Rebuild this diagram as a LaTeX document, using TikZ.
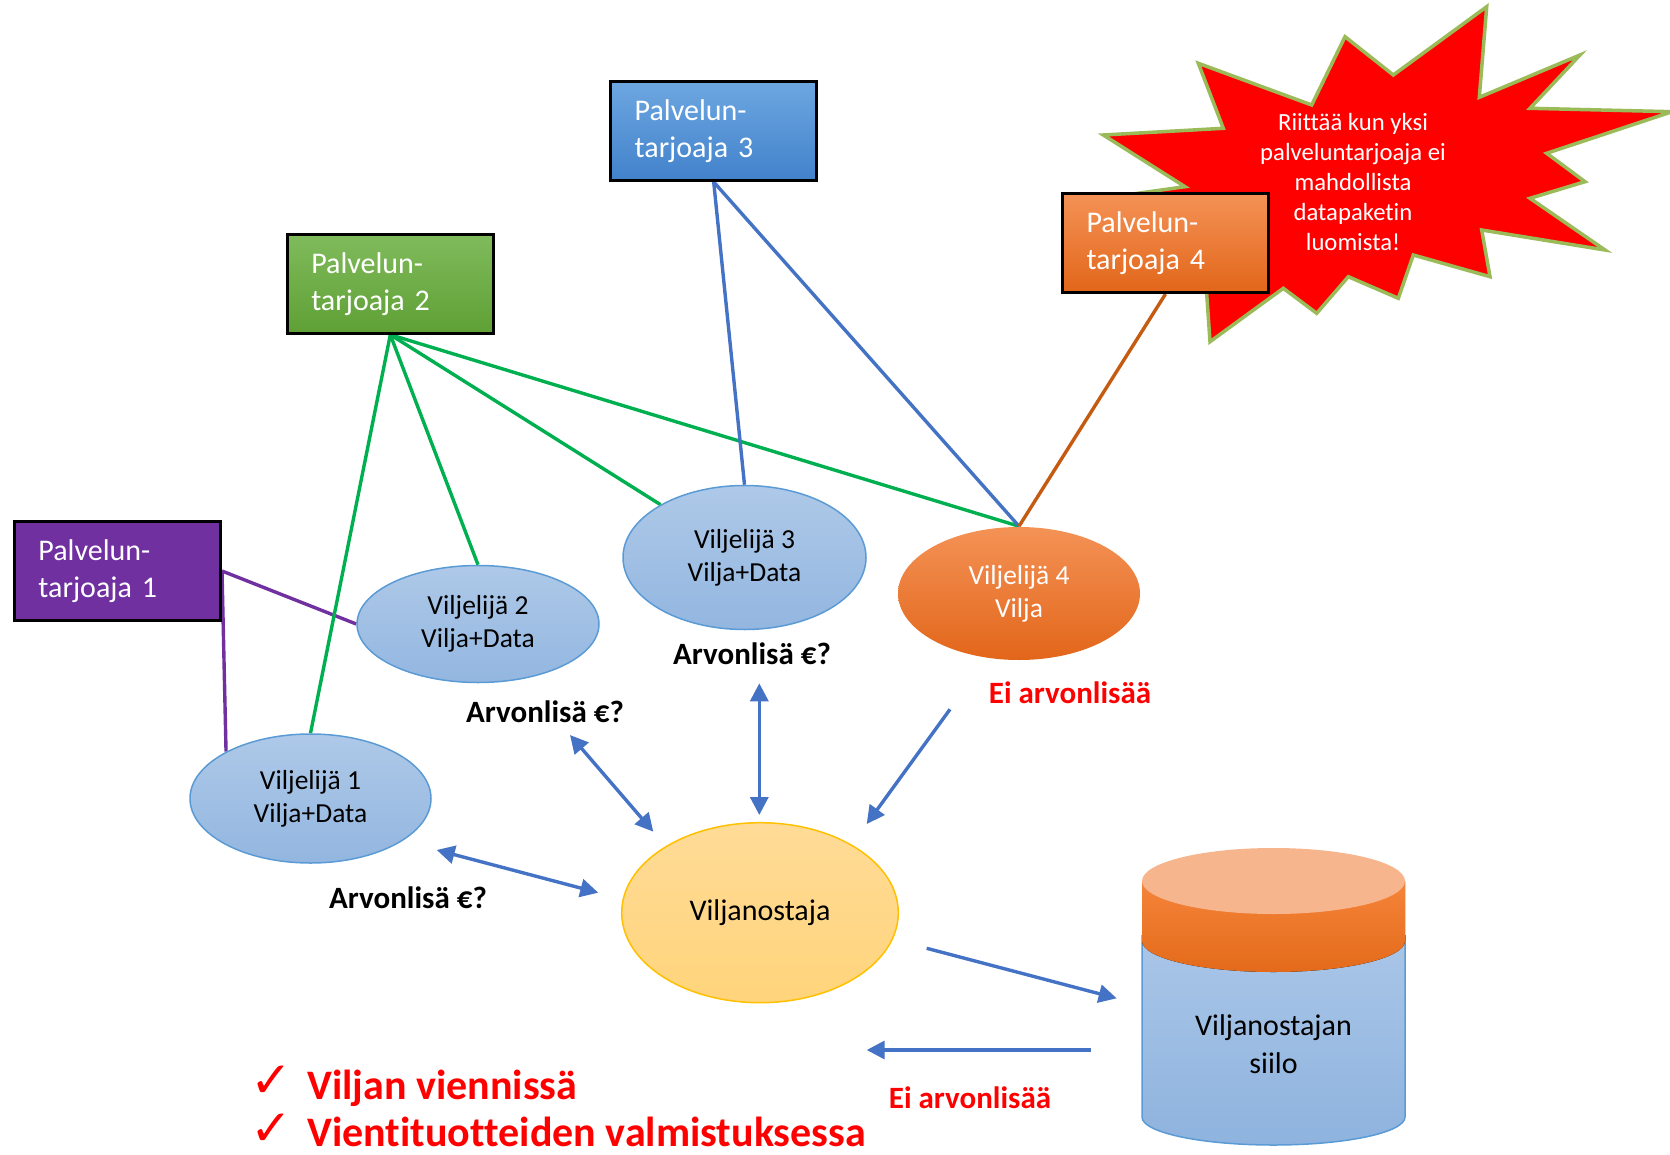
\documentclass[tikz,border=0pt]{standalone}
\usepackage{fontspec}
\setmainfont[Ligatures=NoCommon]{Carlito}
\newfontfamily\symfont{DejaVu Sans}
\usetikzlibrary{arrows.meta,shapes.geometric}

\definecolor{provpurple}{HTML}{7030A0}
\definecolor{provgreenT}{HTML}{80BB5C}
\definecolor{provgreenB}{HTML}{5FA035}
\definecolor{provblueT}{HTML}{6DA7E1}
\definecolor{provblueB}{HTML}{4282CB}
\definecolor{provorangeT}{HTML}{F49256}
\definecolor{provorangeB}{HTML}{E2661A}
\definecolor{farmT}{HTML}{AEC9E8}
\definecolor{farmB}{HTML}{93B6E0}
\definecolor{farmedge}{HTML}{5B9BD5}
\definecolor{buyT}{HTML}{FFDB97}
\definecolor{buyB}{HTML}{FFD47B}
\definecolor{buyedge}{HTML}{FFC000}
\definecolor{linegreen}{HTML}{00B050}
\definecolor{lineblue}{HTML}{4472C4}
\definecolor{linebrown}{HTML}{C55A11}
\definecolor{burstred}{HTML}{FF0000}
\definecolor{burstedge}{HTML}{9BBB59}
\definecolor{siloT}{HTML}{AAC6E8}
\definecolor{siloB}{HTML}{8EB3DE}
\definecolor{bandT}{HTML}{F5843A}
\definecolor{bandB}{HTML}{E36A1A}
\definecolor{silocap}{HTML}{F6B58C}
\definecolor{alertred}{HTML}{FF0000}

\pgfdeclarelayer{bg}
\pgfsetlayers{bg,main}

\begin{document}
\begin{tikzpicture}[x=0.5pt, y=-0.5pt,
  provider/.style={rectangle, draw=black, line width=1.5pt,
    minimum width=103pt, minimum height=49.5pt, text width=79pt,
    inner xsep=12pt, inner ysep=0pt, align=left, text=white,
    font=\fontsize{15}{18.5}\selectfont},
  farmer/.style={ellipse, draw=farmedge, line width=0.75pt,
    top color=farmT, bottom color=farmB, inner sep=0pt, align=center,
    font=\fontsize{13.75}{16.5}\selectfont},
  buyer/.style={ellipse, draw=buyedge, line width=0.75pt,
    top color=buyT, bottom color=buyB, inner sep=0pt,
    font=\fontsize{15}{18.5}\selectfont},
  link/.style={line width=1.7pt},
  flow/.style={draw=lineblue, line width=1.7pt, -{Triangle[length=9pt,width=9pt]}},
  twoway/.style={draw=lineblue, line width=1.7pt,
    {Triangle[length=9pt,width=9pt]}-{Triangle[length=9pt,width=9pt]}},
  valuelabel/.style={font=\bfseries\fontsize{15.5}{18.5}\selectfont},
  novalue/.style={font=\bfseries\fontsize{15.5}{18.5}\selectfont, text=alertred},
  bignote/.style={font=\bfseries\fontsize{21}{25.5}\selectfont, text=alertred, anchor=base west, inner sep=0pt},
  checkmk/.style={font=\symfont\fontsize{25}{28}\selectfont, text=alertred, inner sep=0pt}
]
\useasboundingbox (0,0) rectangle (1670,1155);

% starburst call-out
\begin{pgfonlayer}{bg}
\draw[fill=burstred, draw=burstedge, line width=1.75pt]
  (1486.7,6.7) -- (1479.3,97.3) -- (1580,55) -- (1530,108.3) -- (1672,111.7)
  -- (1546.7,153.3) -- (1585,181.7) -- (1530,198.3) -- (1605,250)
  -- (1481.7,230) -- (1490,276.7) -- (1413.3,255) -- (1398.3,298.3)
  -- (1348.3,276.7) -- (1316.7,313.3) -- (1283.3,288.3) -- (1210,341.7)
  -- (1204,255) -- (1090,200) -- (1185,186.7) -- (1103.3,135)
  -- (1223.3,128.3) -- (1198.3,63.3) -- (1311.7,105) -- (1345,36.7)
  -- (1393.3,75) -- cycle;
\end{pgfonlayer}
\node[text=white, align=center, font=\fontsize{12.35}{15}\selectfont] (burst) at (1353,181.7)
  {Riittää kun yksi\\palveluntarjoaja ei\\mahdollista\\datapaketin\\luomista!};

% service providers
\node[provider, fill=provpurple] (p1) at (117.5,571) {Palvelun-\\tarjoaja 1};
\node[provider, top color=provgreenT, bottom color=provgreenB] (p2) at (390.3,283.7) {Palvelun-\\tarjoaja 2};
\node[provider, top color=provblueT, bottom color=provblueB] (p3) at (713.7,131) {Palvelun-\\tarjoaja 3};
\node[provider, top color=provorangeT, bottom color=provorangeB] (p4) at (1165.5,243) {Palvelun-\\tarjoaja 4};

% farmers
\node[farmer, minimum width=120.5pt, minimum height=64.5pt] (v1) at (310.5,798.5) {Viljelijä 1\\Vilja+Data};
\node[farmer, minimum width=121pt, minimum height=58.5pt] (v2) at (478,624) {Viljelijä 2\\Vilja+Data};
\node[farmer, minimum width=121.5pt, minimum height=72pt] (v3) at (744.5,557.5) {Viljelijä 3\\Vilja+Data};
\node[farmer, draw=none, top color=provorangeT, bottom color=provorangeB, text=white,
  minimum width=121pt, minimum height=66.5pt] (v4) at (1019,593.5) {Viljelijä 4\\Vilja};

% grain buyer
\node[buyer, minimum width=138.3pt, minimum height=90pt] (buy) at (760,912.7) {Viljanostaja};

% connections between providers and farmers
\begin{pgfonlayer}{bg}
\draw[link, provpurple] (p1.east) -- (v2.west);
\draw[link, provpurple] (p1.east) -- (v1.151);
\draw[link, linegreen] (p2.south) -- (v1.north);
\draw[link, linegreen] (p2.south) -- (v2.north);
\draw[link, linegreen] (p2.south) -- (v3);
\draw[link, linegreen] (p2.south) -- (v4.north);
\draw[link, lineblue] (p3.south) -- (v3.north);
\draw[link, lineblue] (p3.south) -- (v4.north);
\draw[link, linebrown] (p4.south) -- (v4.north);
\end{pgfonlayer}

% silo of the buyer
\fill[top color=siloT, bottom color=siloB]
  (1142,935) -- (1142,1117) arc[start angle=180, end angle=0, x radius=131.5, y radius=28]
  -- (1405,935) -- cycle;
\draw[farmedge, line width=0.75pt]
  (1142,935) -- (1142,1117) arc[start angle=180, end angle=0, x radius=131.5, y radius=28]
  -- (1405,935);
\fill[top color=bandT, bottom color=bandB]
  (1142,881) -- (1142,941) arc[start angle=180, end angle=0, x radius=131.5, y radius=31]
  -- (1405,881) -- cycle;
\fill[silocap] (1273.5,881) ellipse [x radius=131.5, y radius=33];
\node[align=center, font=\fontsize{15}{19}\selectfont] (silo) at (1273.5,1044) {Viljanostajan\\siilo};

% value labels
\node[valuelabel] (a3) at (752,654) {Arvonlisä €?};
\node[valuelabel] (a2) at (545,712) {Arvonlisä €?};
\node[valuelabel] (a1) at (408,898) {Arvonlisä €?};
\node[novalue] (n1) at (1070,693) {Ei arvonlisää};
\node[novalue] (n2) at (970,1098) {Ei arvonlisää};

% trade flows
\coordinate (f1a) at (436.7,850);   \coordinate (f1b) at (598.3,892.7);
\coordinate (f2a) at (570,735);     \coordinate (f2b) at (653.3,831.7);
\coordinate (f3a) at (759.3,683.3); \coordinate (f3b) at (759.3,815);
\coordinate (f4a) at (950,709.3);   \coordinate (f4b) at (866.7,824);
\coordinate (f5a) at (926.7,948.3); \coordinate (f5b) at (1116.7,998.3);
\coordinate (f6a) at (1090.7,1050); \coordinate (f6b) at (866.7,1050);
\draw[twoway] (f1a) -- (f1b);
\draw[twoway] (f2a) -- (f2b);
\draw[twoway] (f3a) -- (f3b);
\draw[flow] (f4a) -- (f4b);
\draw[flow] (f5a) -- (f5b);
\draw[flow] (f6a) -- (f6b);

% export notes
\node[checkmk] (c1) at (271,1082) {✓};
\node[checkmk] (c2) at (271,1130) {✓};
\node[bignote] (e1) at (307,1099) {Viljan viennissä};
\node[bignote] (e2) at (307,1146) {Vientituotteiden valmistuksessa};
\end{tikzpicture}
\end{document}
